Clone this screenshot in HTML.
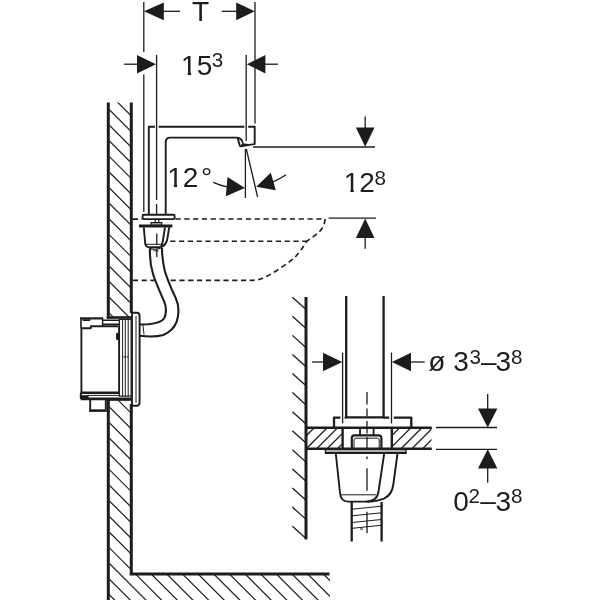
<!DOCTYPE html>
<html lang="en"><head><meta charset="utf-8"><title>Dimensional drawing</title>
<style>
html,body{margin:0;padding:0;background:#fff;}
body{width:600px;height:600px;overflow:hidden;}
svg{display:block;will-change:transform;}
svg text{font-family:"Liberation Sans",Arial,Helvetica,sans-serif;fill:#1c1c1c;stroke:none;}
</style></head><body>
<svg width="600" height="600" viewBox="0 0 600 600" stroke="#1c1c1c" fill="none" stroke-linecap="butt" stroke-linejoin="round">
<rect x="0" y="0" width="600" height="600" fill="#fff" stroke="none"/>
<defs>
<clipPath id="cw"><path d="M109.5 102.5H130V317H109.5Z M109.5 399.5H130V575H330V600H109.5Z"/></clipPath>
<clipPath id="ct1"><rect x="307" y="428.5" width="34.8" height="19.5"/></clipPath>
<clipPath id="ct2"><path d="M392.5 428.5H431.5V448H392.5Z"/></clipPath>
<clipPath id="c1"><rect x="-2" y="-26" width="16.5" height="23.4"/><rect x="6.4" y="-3" width="3.2" height="4"/><rect x="14.5" y="-26" width="60" height="34"/></clipPath>
</defs>
<g clip-path="url(#cw)" stroke-width="1.2">
<line x1="90" y1="43.35" x2="350" y2="303.35" stroke-width="1.2" />
<line x1="90" y1="59.0" x2="350" y2="319.0" stroke-width="1.2" />
<line x1="90" y1="74.65" x2="350" y2="334.65" stroke-width="1.2" />
<line x1="90" y1="90.3" x2="350" y2="350.3" stroke-width="1.2" />
<line x1="90" y1="105.95" x2="350" y2="365.95" stroke-width="1.2" />
<line x1="90" y1="121.6" x2="350" y2="381.6" stroke-width="1.2" />
<line x1="90" y1="137.25" x2="350" y2="397.25" stroke-width="1.2" />
<line x1="90" y1="152.9" x2="350" y2="412.9" stroke-width="1.2" />
<line x1="90" y1="168.55" x2="350" y2="428.55" stroke-width="1.2" />
<line x1="90" y1="184.2" x2="350" y2="444.2" stroke-width="1.2" />
<line x1="90" y1="199.85" x2="350" y2="459.85" stroke-width="1.2" />
<line x1="90" y1="215.5" x2="350" y2="475.5" stroke-width="1.2" />
<line x1="90" y1="231.15" x2="350" y2="491.15" stroke-width="1.2" />
<line x1="90" y1="246.8" x2="350" y2="506.8" stroke-width="1.2" />
<line x1="90" y1="262.45" x2="350" y2="522.45" stroke-width="1.2" />
<line x1="90" y1="278.1" x2="350" y2="538.1" stroke-width="1.2" />
<line x1="90" y1="293.75" x2="350" y2="553.75" stroke-width="1.2" />
<line x1="90" y1="309.4" x2="350" y2="569.4" stroke-width="1.2" />
<line x1="90" y1="325.05" x2="350" y2="585.05" stroke-width="1.2" />
<line x1="90" y1="340.7" x2="350" y2="600.7" stroke-width="1.2" />
<line x1="90" y1="356.35" x2="350" y2="616.35" stroke-width="1.2" />
<line x1="90" y1="372.0" x2="350" y2="632.0" stroke-width="1.2" />
<line x1="90" y1="387.65" x2="350" y2="647.65" stroke-width="1.2" />
<line x1="90" y1="403.3" x2="350" y2="663.3" stroke-width="1.2" />
<line x1="90" y1="418.95" x2="350" y2="678.95" stroke-width="1.2" />
<line x1="90" y1="434.6" x2="350" y2="694.6" stroke-width="1.2" />
<line x1="90" y1="450.25" x2="350" y2="710.25" stroke-width="1.2" />
<line x1="90" y1="465.9" x2="350" y2="725.9" stroke-width="1.2" />
<line x1="90" y1="481.55" x2="350" y2="741.55" stroke-width="1.2" />
<line x1="90" y1="497.2" x2="350" y2="757.2" stroke-width="1.2" />
<line x1="90" y1="512.85" x2="350" y2="772.85" stroke-width="1.2" />
<line x1="90" y1="528.5" x2="350" y2="788.5" stroke-width="1.2" />
<line x1="90" y1="544.15" x2="350" y2="804.15" stroke-width="1.2" />
<line x1="90" y1="559.8" x2="350" y2="819.8" stroke-width="1.2" />
<line x1="90" y1="575.45" x2="350" y2="835.45" stroke-width="1.2" />
<line x1="90" y1="591.1" x2="350" y2="851.1" stroke-width="1.2" />
<line x1="90" y1="606.75" x2="350" y2="866.75" stroke-width="1.2" />
<line x1="90" y1="622.4" x2="350" y2="882.4" stroke-width="1.2" />
<line x1="90" y1="638.05" x2="350" y2="898.05" stroke-width="1.2" />
<line x1="90" y1="653.7" x2="350" y2="913.7" stroke-width="1.2" />
<line x1="90" y1="669.35" x2="350" y2="929.35" stroke-width="1.2" />
<line x1="90" y1="685.0" x2="350" y2="945.0" stroke-width="1.2" />
<line x1="90" y1="700.65" x2="350" y2="960.65" stroke-width="1.2" />
</g>
<line x1="108.3" y1="102.5" x2="108.3" y2="318.5" stroke-width="3.0" />
<line x1="131.3" y1="102.5" x2="131.3" y2="313" stroke-width="3.0" />
<line x1="106.8" y1="317.5" x2="131" y2="317.5" stroke-width="2.6" />
<line x1="108.3" y1="398" x2="108.3" y2="600" stroke-width="3.0" />
<line x1="131.3" y1="404" x2="131.3" y2="575" stroke-width="3.0" />
<line x1="129.8" y1="574" x2="329.5" y2="574" stroke-width="3.0" />
<line x1="106.8" y1="399.5" x2="131" y2="399.5" stroke-width="2.6" />
<line x1="143.8" y1="2" x2="143.8" y2="52" stroke-width="1.3" />
<line x1="143.8" y1="74.5" x2="143.8" y2="212" stroke-width="1.3" />
<line x1="255" y1="2" x2="255" y2="123.5" stroke-width="1.3" />
<line x1="156.6" y1="55" x2="156.6" y2="200" stroke-width="1.3" />
<line x1="156.6" y1="204" x2="156.6" y2="214" stroke-width="1.3" />
<line x1="246.2" y1="55" x2="246.2" y2="141" stroke-width="1.3" />
<polygon points="144,11.3 163.8,2.4 163.8,20.2" fill="#1c1c1c" stroke="none" />
<line x1="163" y1="11.3" x2="180" y2="11.3" stroke-width="1.3" />
<polygon points="254.8,11.3 236.2,2.4 236.2,20.2" fill="#1c1c1c" stroke="none" />
<line x1="221.7" y1="11.3" x2="237" y2="11.3" stroke-width="1.3" />
<polygon points="156,64.2 137,55 137,73.6" fill="#1c1c1c" stroke="none" />
<line x1="124" y1="64.2" x2="138" y2="64.2" stroke-width="1.3" />
<polygon points="246.8,64.2 265.4,55 265.4,73.6" fill="#1c1c1c" stroke="none" />
<line x1="265" y1="64.2" x2="278" y2="64.2" stroke-width="1.3" />
<text x="200.7" y="21.2" font-size="28.2" text-anchor="middle">T</text>
<g transform="translate(181.1,74.7) scale(1.037)"><text x="0" y="0" font-size="27" clip-path="url(#c1)">15</text></g>
<text x="211.8" y="66.8" font-size="20.6" text-anchor="start">3</text>
<path d="M148.8 214V126.8H155 M158.6 126.8H244.3 M248.2 126.8H254.7V144.2" stroke-width="1.9" fill="none" />
<path d="M165.7 214V142.2Q165.7 137.6 170.3 137.6H237.5" stroke-width="1.9" fill="none" />
<path d="M237.5 137.6L240.1 146.4" stroke-width="1.9" fill="none" />
<path d="M237.5 137.6Q241.4 138.4 242.2 141.4L243 143.6" stroke-width="1.7" fill="none" />
<polygon points="239.6,147 242.4,143.3 249,143.9 254.8,143.2 255.4,144.7 248,146 241,147.3" fill="#1c1c1c" stroke="none" />
<line x1="253" y1="147" x2="375" y2="147" stroke-width="1.3" />
<line x1="245.4" y1="149" x2="245.4" y2="198" stroke-width="1.3" />
<line x1="246.3" y1="149" x2="257.6" y2="197" stroke-width="1.3" />
<polygon points="244.9,188 227.5,177 225.8,196.3" fill="#1c1c1c" stroke="none" />
<path d="M213.3 182.4Q220 185.6 227 186.8" stroke-width="1.3" fill="none" />
<polygon points="256.2,186.7 270.8,172.8 275.8,190.3" fill="#1c1c1c" stroke="none" />
<path d="M273 181.8Q280 179 286 174.8" stroke-width="1.3" fill="none" />
<g transform="translate(167.2,186.7) scale(1.037)"><text x="0" y="0" font-size="27" clip-path="url(#c1)">12</text></g>
<text x="201" y="187.4" font-size="28" text-anchor="start">°</text>
<polygon points="365.2,146.8 355.9,127.5 374.5,127.5" fill="#1c1c1c" stroke="none" />
<line x1="365.2" y1="116.5" x2="365.2" y2="128" stroke-width="1.3" />
<line x1="328.7" y1="218.2" x2="376" y2="218.2" stroke-width="1.3" />
<polygon points="365.2,218.4 355.9,237.9 374.5,237.9" fill="#1c1c1c" stroke="none" />
<line x1="365.2" y1="237" x2="365.2" y2="248.8" stroke-width="1.3" />
<g transform="translate(343.8,192.4) scale(1.037)"><text x="0" y="0" font-size="27" clip-path="url(#c1)">12</text></g>
<text x="374.6" y="184.6" font-size="20.6" text-anchor="start">8</text>
<path d="M132.8 219.1H142" stroke-width="1.6" fill="none" stroke-dasharray="5.2 3.6"/>
<path d="M175.5 219H325 Q325 228 315.5 235 L306.8 241.3 Q300 252 294.5 257.8 Q288 263 280.5 268 Q272 274 263 278 Q258 280.4 250 280.4" stroke-width="1.6" fill="none" stroke-dasharray="5.2 3.6"/>
<path d="M170.6 280.4H250" stroke-width="1.6" fill="none" stroke-dasharray="5.2 3.6"/>
<path d="M132.8 280.4H154.6" stroke-width="1.6" fill="none" stroke-dasharray="5.2 3.6"/>
<path d="M170.2 241.3H306.5" stroke-width="1.6" fill="none" stroke-dasharray="5.2 3.6"/>
<rect x="142.6" y="214.8" width="32" height="4.3" stroke-width="1.9" fill="#fff" rx="1"/>
<path d="M155.2 219.4V222.6 M158.8 219.4V222.6" stroke-width="1.2" fill="none" />
<rect x="151" y="222.6" width="10.8" height="2.8" stroke-width="1.2" fill="#bbb" />
<line x1="139" y1="226" x2="172.4" y2="226" stroke-width="2.8" />
<path d="M143.8 227.3L145.2 243.5Q145.6 247.2 149.4 247.2H160.6" stroke-width="1.9" fill="none" />
<path d="M165 227.3L162.8 241Q162 246 160.4 247.2" stroke-width="1.9" fill="none" />
<path d="M169.2 227.3L167.4 238.5Q166.3 245.6 160.6 247.2" stroke-width="1.9" fill="none" />
<line x1="146" y1="244.3" x2="161.5" y2="244.3" stroke-width="1.0" />
<line x1="156.8" y1="233.6" x2="156.8" y2="245" stroke-width="1.3" />
<line x1="156.8" y1="249" x2="156.8" y2="257" stroke-width="1.3" />
<line x1="153.5" y1="250.8" x2="158.5" y2="250.8" stroke-width="1.0" />
<path d="M150 248 C149.6 256 150.4 266 153.3 275 C156 283 160 292 164.2 301.7 C166.4 306.5 166.6 313.5 164.2 318.3 C162 322 156 323.6 148.3 324.2 L139.6 324.5" stroke-width="2.1" fill="none" />
<path d="M162 248 C162 254 162.8 263 165 271.7 C167 278 171 288 175.8 298.3 C178.6 304.5 179.4 313 176.7 321.7 C174.5 327.5 169.5 332.5 163.3 335 C158 336.6 150 337 139.6 335.8" stroke-width="2.1" fill="none" />
<path d="M143 325.2L144 334.6" stroke-width="1.0" fill="none" />
<path d="M149.8 248.6Q156 250.2 162 247.8" stroke-width="1.2" fill="none" />
<path d="M132 312.8H136.6Q139.6 312.8 139.6 316V402.6Q139.6 405.8 136.6 405.8H132" stroke-width="1.9" fill="#fff" />
<line x1="132" y1="312.8" x2="132" y2="405.8" stroke-width="1.9" />
<line x1="136" y1="316" x2="136" y2="403" stroke-width="1.0" />
<rect x="119.4" y="319.4" width="11.8" height="76.8" stroke-width="1.3" fill="#fff" />
<line x1="122.6" y1="319.4" x2="122.6" y2="396.2" stroke-width="1.0" />
<line x1="125.3" y1="319.4" x2="125.3" y2="396.2" stroke-width="1.0" />
<line x1="128.2" y1="319.4" x2="128.2" y2="396.2" stroke-width="1.0" />
<path d="M123.6 356l1 1.6 1-1.6 M126.6 356l1 1.6 1-1.6" stroke-width="0.8" fill="none" />
<line x1="81" y1="317.4" x2="81" y2="328.2" stroke-width="1.6" />
<line x1="80.2" y1="318.4" x2="103.2" y2="318.4" stroke-width="2.2" />
<path d="M80.8 328.2H90.8V326.2H118.6" stroke-width="1.9" fill="none" />
<path d="M102.6 318.6V326 M102.6 320.2H119 M102.6 324.2H119" stroke-width="1.4" fill="none" />
<line x1="82.6" y1="320.1" x2="90.2" y2="320.1" stroke-width="1.8" />
<path d="M81.4 328V393" stroke-width="1.9" fill="none" />
<line x1="118.8" y1="326" x2="118.8" y2="393" stroke-width="1.2" />
<rect x="116.6" y="333.4" width="2.2" height="6" stroke-width="1.0" fill="#1c1c1c" />
<line x1="80.8" y1="392.8" x2="119" y2="392.8" stroke-width="2.6" />
<line x1="88" y1="395.4" x2="119" y2="395.4" stroke-width="1.0" />
<path d="M80.8 392.8V398.8" stroke-width="1.9" fill="none" />
<rect x="80.8" y="395.6" width="7.4" height="3.2" stroke-width="0.8" fill="#1c1c1c" />
<line x1="80.8" y1="398.9" x2="131" y2="398.9" stroke-width="2.6" />
<path d="M90.2 399V409.6 M105.8 399V409.6" stroke-width="1.9" fill="none" />
<line x1="89" y1="410.6" x2="106.8" y2="410.6" stroke-width="2.6" />
<line x1="306" y1="297" x2="306" y2="539.5" stroke-width="3.0" />
<line x1="292.4" y1="297.2" x2="305.5" y2="309.0" stroke-width="1.3" />
<line x1="292.4" y1="316.28" x2="305.5" y2="328.08" stroke-width="1.3" />
<line x1="292.4" y1="335.36" x2="305.5" y2="347.16" stroke-width="1.3" />
<line x1="292.4" y1="354.44" x2="305.5" y2="366.24" stroke-width="1.3" />
<line x1="292.4" y1="373.52" x2="305.5" y2="385.32" stroke-width="1.3" />
<line x1="292.4" y1="392.6" x2="305.5" y2="404.4" stroke-width="1.3" />
<line x1="292.4" y1="411.68" x2="305.5" y2="423.48" stroke-width="1.3" />
<line x1="292.4" y1="430.76" x2="305.5" y2="442.56" stroke-width="1.3" />
<line x1="292.4" y1="449.84" x2="305.5" y2="461.64" stroke-width="1.3" />
<line x1="292.4" y1="468.92" x2="305.5" y2="480.72" stroke-width="1.3" />
<line x1="292.4" y1="488.0" x2="305.5" y2="499.8" stroke-width="1.3" />
<line x1="292.4" y1="507.08" x2="305.5" y2="518.88" stroke-width="1.3" />
<line x1="292.4" y1="526.16" x2="305.5" y2="537.96" stroke-width="1.3" />
<path d="M346.2 296V417.4H383.6V296" stroke-width="2.3" fill="none" />
<path d="M334 427.6V417.6H340.4 M344.6 417.6H346.2 M383.6 417.6H389.2 M393.8 417.6H411.3V427.6" stroke-width="2.3" fill="none" />
<line x1="342.6" y1="352.6" x2="342.6" y2="423.4" stroke-width="1.3" />
<line x1="391.5" y1="352.6" x2="391.5" y2="423.4" stroke-width="1.3" />
<polygon points="342.3,362 323,352.8 323,371.3" fill="#1c1c1c" stroke="none" />
<line x1="312" y1="362" x2="324" y2="362" stroke-width="1.3" />
<polygon points="391.8,362 411,352.8 411,371.3" fill="#1c1c1c" stroke="none" />
<line x1="410" y1="362" x2="424.7" y2="362" stroke-width="1.3" />
<text x="428.2" y="371.4" font-size="28" text-anchor="start">ø</text>
<text x="453.3" y="371.4" font-size="28" text-anchor="start">3</text>
<text x="469.4" y="364.1" font-size="20.6" text-anchor="start">3</text>
<text x="481" y="371.4" font-size="28" text-anchor="start">–</text>
<text x="495.6" y="371.4" font-size="28" text-anchor="start">3</text>
<text x="511" y="364.1" font-size="20.6" text-anchor="start">8</text>
<g clip-path="url(#ct1)" stroke-width="1.3">
<line x1="282" y1="460" x2="322" y2="420" stroke-width="1.3" />
<line x1="295" y1="460" x2="335" y2="420" stroke-width="1.3" />
<line x1="305.4" y1="460" x2="345.4" y2="420" stroke-width="1.3" />
<line x1="315.79999999999995" y1="460" x2="355.79999999999995" y2="420" stroke-width="1.3" />
<line x1="326.20000000000005" y1="460" x2="366.20000000000005" y2="420" stroke-width="1.3" />
</g>
<g clip-path="url(#ct2)" stroke-width="1.3">
<line x1="367.4" y1="460" x2="407.4" y2="420" stroke-width="1.3" />
<line x1="378.6" y1="460" x2="418.6" y2="420" stroke-width="1.3" />
<line x1="389.70000000000005" y1="460" x2="429.70000000000005" y2="420" stroke-width="1.3" />
<line x1="400.6" y1="460" x2="440.6" y2="420" stroke-width="1.3" />
<line x1="411.29999999999995" y1="460" x2="451.29999999999995" y2="420" stroke-width="1.3" />
<line x1="422" y1="460" x2="462" y2="420" stroke-width="1.3" />
</g>
<line x1="306" y1="427.8" x2="431.8" y2="427.8" stroke-width="2.4" />
<line x1="306" y1="448.8" x2="431.8" y2="448.8" stroke-width="2.4" />
<line x1="342.6" y1="427.8" x2="342.6" y2="448.8" stroke-width="2.4" />
<line x1="391.8" y1="427.8" x2="391.8" y2="448.8" stroke-width="2.4" />
<line x1="436" y1="427.5" x2="497" y2="427.5" stroke-width="1.3" />
<line x1="436" y1="449.3" x2="497" y2="449.3" stroke-width="1.3" />
<polygon points="487.7,427.5 478,408.5 497.4,408.5" fill="#1c1c1c" stroke="none" />
<line x1="487.7" y1="394" x2="487.7" y2="409" stroke-width="1.3" />
<polygon points="487.7,449.3 478,468.4 497.4,468.4" fill="#1c1c1c" stroke="none" />
<line x1="487.7" y1="468" x2="487.7" y2="482.8" stroke-width="1.3" />
<text x="453.2" y="510.5" font-size="28" text-anchor="start">0</text>
<text x="468.5" y="503" font-size="20.6" text-anchor="start">2</text>
<text x="480.2" y="510.3" font-size="28" text-anchor="start">–</text>
<text x="495.4" y="510.5" font-size="28" text-anchor="start">3</text>
<text x="511" y="503" font-size="20.6" text-anchor="start">8</text>
<path d="M360 428.5V435 M373.6 428.5V435" stroke-width="1.8" fill="none" />
<path d="M351.8 448V438.2Q351.8 435.4 354.6 435.4H378.6Q381.4 435.4 381.4 438.2V448" stroke-width="2.2" fill="none" />
<path d="M354 448V440Q354 438.2 355.8 438.2H377.4Q379.2 438.2 379.2 440V448" stroke-width="1.0" fill="none" />
<rect x="325.4" y="449.6" width="80.6" height="3.2" stroke-width="1.2" fill="#ddd" />
<line x1="324.8" y1="452.8" x2="406.6" y2="452.8" stroke-width="2.2" />
<path d="M335.8 453.5L340 493Q340.8 501.6 348 501.6H368" stroke-width="1.9" fill="none" />
<path d="M384.2 453.5L378.6 491Q377.6 498.6 372 500.4Q370 501.2 366 501.6" stroke-width="1.9" fill="none" />
<path d="M397.5 453.5L393.4 484Q392 495 384 498.6Q378 501 368 501.8" stroke-width="1.9" fill="none" />
<line x1="341" y1="494.8" x2="376" y2="494.8" stroke-width="1.0" />
<line x1="351.7" y1="502" x2="351.7" y2="541.5" stroke-width="2.3" />
<line x1="381.6" y1="502" x2="381.6" y2="541.5" stroke-width="2.3" />
<line x1="352" y1="509.2" x2="381.4" y2="506.2" stroke-width="1.0" />
<line x1="352" y1="515.8" x2="381.4" y2="512.8" stroke-width="1.0" />
<line x1="352" y1="522.5" x2="381.4" y2="519.5" stroke-width="1.0" />
<line x1="352" y1="528.3" x2="381.4" y2="525.3" stroke-width="1.0" />
<path d="M367 392V404.6 M367 408.6V416.6 M367 421V433.6 M367 437V448 M367 456.6V459 M367 468.3V490.8 M367 511.7V533.3" stroke-width="1.3" fill="none" />
<line x1="360" y1="529" x2="363" y2="529" stroke-width="1.0" />
</svg>
</body></html>
